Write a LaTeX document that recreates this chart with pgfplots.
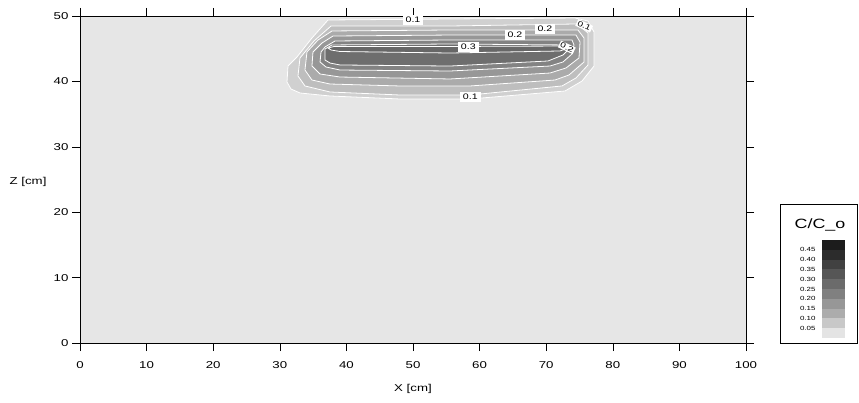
\documentclass[border=0pt]{standalone}
\usepackage{fontspec}
\setmainfont{Liberation Sans}[FakeStretch=1.33]
\usepackage{pgfplots}
\pgfplotsset{compat=1.18}
\definecolor{bg}{HTML}{E6E6E6}
\definecolor{lA}{HTML}{D0D0D0}
\definecolor{lB}{HTML}{BEBEBE}
\definecolor{lC}{HTML}{ABABAB}
\definecolor{lD}{HTML}{979797}
\definecolor{lE}{HTML}{838383}
\definecolor{lF}{HTML}{6E6E6E}
\definecolor{lG}{HTML}{676767}
\definecolor{cb0}{HTML}{E4E4E4}
\definecolor{cb1}{HTML}{C8C8C8}
\definecolor{cb2}{HTML}{ACACAC}
\definecolor{cb3}{HTML}{979797}
\definecolor{cb4}{HTML}{808080}
\definecolor{cb5}{HTML}{6B6B6B}
\definecolor{cb6}{HTML}{565656}
\definecolor{cb7}{HTML}{414141}
\definecolor{cb8}{HTML}{2C2C2C}
\definecolor{cb9}{HTML}{1C1C1C}
\begin{document}
\begin{tikzpicture}
\begin{axis}[
  at={(0,0)}, anchor=south west, scale only axis,
  width=666bp, height=327bp,
  xmin=0, xmax=100, ymin=0, ymax=50,
  xtick={0,10,...,100}, ytick={0,10,...,50},
  tick align=outside,
  major tick length=8bp,
  tick style={black, line width=0.6pt},
  axis line style={black, line width=0.8pt},
  axis background/.style={fill=bg},
  ticklabel style={font=\fontsize{10}{12}\selectfont},
  xticklabel style={yshift=-7bp},
  /pgf/number format/assume math mode=true,
  xlabel={X [cm]}, ylabel={Z [cm]},
  label style={font=\fontsize{10}{12}\selectfont},
  every axis x label/.style={at={(axis description cs:0.5,-0.14)},anchor=center},
  every axis y label/.style={at={(axis description cs:-0.078,0.493)},anchor=center},
  contour/.style={draw=white, line width=0.8pt},
]
\addplot[fill=lA, contour] coordinates {(31.08,39.91)(31.23,42.35)(32.58,43.73)(34.83,46.64)(37.24,49.39)(55.56,49.54)(74.32,49.69)(76.28,49.24)(77.18,47.55)(77.18,42.35)(75.38,40.06)(72.82,38.53)(58.56,37.31)(48.05,37.31)(37.54,37.77)(33.03,38.23)(31.68,38.84)} -- cycle;
\addplot[fill=lB, contour] coordinates {(32.73,40.83)(33.03,43.58)(35.14,46.18)(37.69,48.47)(55.56,48.47)(74.62,48.78)(76.28,47.40)(76.28,42.51)(74.47,40.52)(72.37,39.30)(58.56,37.92)(48.05,37.92)(37.54,38.38)(33.78,39.30)} -- cycle;
\addplot[fill=lC, contour] coordinates {(33.78,41.74)(34.08,44.50)(35.74,46.33)(37.84,47.71)(55.56,47.86)(74.77,47.86)(75.68,46.64)(75.68,42.97)(73.42,40.98)(71.32,40.21)(58.56,39.30)(48.05,39.30)(37.54,39.60)(34.83,40.21)} -- cycle;
\addplot[fill=lD, contour] coordinates {(34.83,42.35)(34.98,44.50)(36.34,45.87)(37.99,46.94)(55.56,47.09)(74.47,47.09)(75.08,46.02)(74.92,43.58)(72.97,42.05)(70.57,41.28)(55.56,40.37)(39.04,40.67)(36.04,41.13)} -- cycle;
\addplot[fill=lE, contour] coordinates {(36.04,42.97)(36.19,44.50)(36.79,45.26)(38.29,46.18)(55.56,46.33)(73.87,46.33)(74.17,45.57)(73.87,44.19)(72.52,42.97)(70.57,42.35)(55.56,41.59)(39.04,41.74)(36.94,42.20)} -- cycle;
\addplot[fill=lF, contour] coordinates {(36.79,43.27)(36.79,44.95)(37.84,45.57)(55.56,45.72)(72.97,45.57)(73.42,44.95)(72.52,44.04)(70.27,43.12)(55.56,42.35)(39.04,42.51)(37.54,42.81)} -- cycle;
\addplot[fill=lG, contour] coordinates {(37.24,45.11)(38.14,45.34)(55.56,45.34)(72.67,45.41)(73.12,45.03)(72.07,44.65)(55.56,44.34)(39.04,44.57)(37.69,44.80)} -- cycle;
\begin{scope}[every node/.style={fill=white, inner xsep=3bp, inner ysep=2bp, font=\fontsize{8}{9}\selectfont}]
\node at (axis cs:50.0,49.4) {0.1};
\node at (axis cs:58.6,37.6) {0.1};
\node at (axis cs:65.3,47.1) {0.2};
\node at (axis cs:69.8,48.0) {0.2};
\node[rotate=-25, inner xsep=1.2bp, inner ysep=1bp, font=\fontsize{7.5}{8}\selectfont] at (axis cs:75.7,48.5) {0.1};
\node[rotate=-25, inner xsep=1.2bp, inner ysep=1bp, font=\fontsize{7.5}{8}\selectfont] at (axis cs:73.1,45.2) {0.2};
\node at (axis cs:58.3,45.3) {0.3};
\end{scope}
\end{axis}
\begin{axis}[
  at={(742bp,5bp)}, anchor=south west, scale only axis,
  width=23bp, height=98bp,
  xmin=0, xmax=1, ymin=0, ymax=10,
  axis line style={draw=none},
  xtick=\empty, ytick={1,2,...,9},
  yticklabels={0.05,0.10,0.15,0.20,0.25,0.30,0.35,0.40,0.45},
  major tick length=0pt, tick style={draw=none},
  yticklabel style={font=\fontsize{6}{7}\selectfont, xshift=-3bp},
]
\addplot[fill=cb0, draw=none] coordinates {(0,0)(1,0)(1,1)(0,1)} -- cycle;
\addplot[fill=cb1, draw=none] coordinates {(0,1)(1,1)(1,2)(0,2)} -- cycle;
\addplot[fill=cb2, draw=none] coordinates {(0,2)(1,2)(1,3)(0,3)} -- cycle;
\addplot[fill=cb3, draw=none] coordinates {(0,3)(1,3)(1,4)(0,4)} -- cycle;
\addplot[fill=cb4, draw=none] coordinates {(0,4)(1,4)(1,5)(0,5)} -- cycle;
\addplot[fill=cb5, draw=none] coordinates {(0,5)(1,5)(1,6)(0,6)} -- cycle;
\addplot[fill=cb6, draw=none] coordinates {(0,6)(1,6)(1,7)(0,7)} -- cycle;
\addplot[fill=cb7, draw=none] coordinates {(0,7)(1,7)(1,8)(0,8)} -- cycle;
\addplot[fill=cb8, draw=none] coordinates {(0,8)(1,8)(1,9)(0,9)} -- cycle;
\addplot[fill=cb9, draw=none] coordinates {(0,9)(1,9)(1,10)(0,10)} -- cycle;
\end{axis}
\draw[black, line width=0.6pt] (700bp,0bp) rectangle (777bp,139bp);
\node[font=\fontsize{13.5}{16}\selectfont] at (740bp,118bp) {C/C\_o};
\pgfresetboundingbox
\path[use as bounding box] (-80bp,-60bp) rectangle (779bp,343bp);
\end{tikzpicture}
\end{document}
